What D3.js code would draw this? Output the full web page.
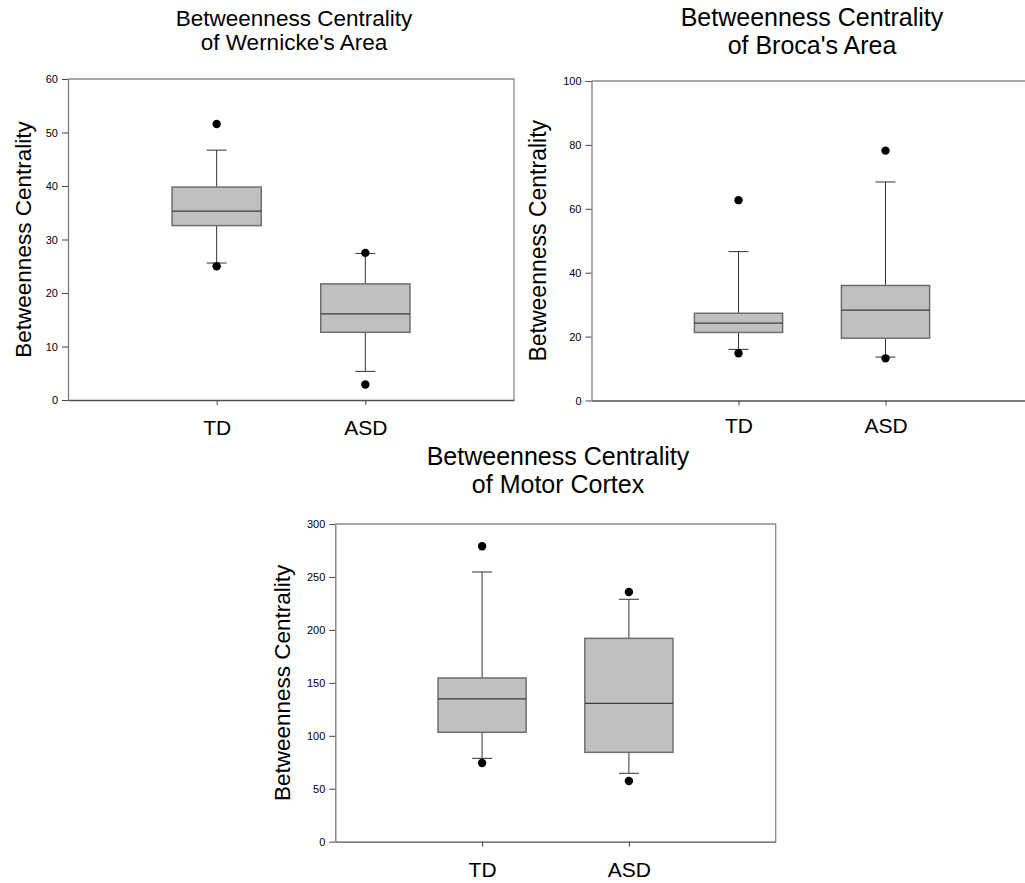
<!DOCTYPE html>
<html lang="en">
  <head>
    <meta charset="utf-8" />
    <title>Betweenness Centrality</title>
    <script src="https://d3js.org/d3.v7.min.js"></script>
    <style>
      body { margin: 0; background: #fff; }
      svg { display: block; font-family: "Liberation Sans", Arial, sans-serif; }
    </style>
  </head>
  <body>
    <div id="graph-container"></div>
    <script>
      // data
      const groups = ["TD", "ASD"];
      // order: low outlier, low whisker, Q1, median, Q3, high whisker, high outlier
      const wernickeTD = [25.0, 25.6, 32.6, 35.3, 39.8, 46.7, 51.6];
      const wernickeASD = [2.9, 5.35, 12.65, 16.1, 21.7, 27.4, 27.5];
      const brocaTD = [14.8, 16.0, 21.3, 24.2, 27.3, 46.6, 62.7];
      const brocaASD = [13.2, 13.6, 19.5, 28.3, 36.0, 68.4, 78.2];
      const motorTD = [74.3, 78.7, 103.3, 134.8, 154.6, 254.7, 279];
      const motorASD = [57.3, 64.6, 84.4, 130.7, 192, 228.9, 235.8];
      const wernickeTicks = [0, 10, 20, 30, 40, 50, 60];
      const brocaTicks = [0, 20, 40, 60, 80, 100];
      const motorTicks = [0, 50, 100, 150, 200, 250, 300];

      const cW = 1025, cH = 883;
      const svg = d3.select("#graph-container").append("svg")
        .attr("width", cW).attr("height", cH);

      const panels = [
        {
          titles: ["Betweenness Centrality", "of Wernicke's Area"],
          stats: [wernickeTD, wernickeASD], ticks: wernickeTicks,
          l: 68, r: 514, t: 79, b: 400,
          titleX: 294, titleY: [26, 50], titleSize: 22.5,
          labX: 23, labSize: 22.5, xPad: 15
        },
        {
          titles: ["Betweenness Centrality", "of Broca's Area"],
          stats: [brocaTD, brocaASD], ticks: brocaTicks,
          l: 591.5, r: 1032.5, t: 81, b: 400.5,
          titleX: 812, titleY: [26, 54], titleSize: 25,
          labX: 538, labSize: 23, xPad: 13
        },
        {
          titles: ["Betweenness Centrality", "of Motor Cortex"],
          stats: [motorTD, motorASD], ticks: motorTicks,
          l: 335.3, r: 775.7, t: 524, b: 841.7,
          titleX: 558, titleY: [465, 493], titleSize: 25,
          labX: 282, labSize: 22.5, xPad: 15
        }
      ];

      panels.forEach((p) => {
        const g = svg.append("g");
        const x = d3.scalePoint().domain(groups).range([p.l, p.r]).padding(1);
        const y = d3.scaleLinear()
          .domain([0, d3.max(p.ticks)])
          .range([p.b, p.t]);
        const boxW = (p.r - p.l) * 0.2;
        const capW = 20;

        // title
        p.titles.forEach((tt, i) => {
          g.append("text")
            .attr("x", p.titleX).attr("y", p.titleY[i])
            .attr("text-anchor", "middle")
            .attr("font-size", p.titleSize)
            .attr("fill", "#000")
            .text(tt);
        });

        // frame top and right
        g.append("path")
          .attr("d", `M${p.l},${p.t}H${p.r}V${p.b}`)
          .attr("fill", "none")
          .attr("stroke", "#8a8a8a")
          .attr("stroke-width", 1.3);

        // y axis
        const ya = g.append("g")
          .attr("transform", `translate(${p.l},0)`)
          .call(d3.axisLeft(y).tickValues(p.ticks).tickSize(6).tickPadding(4).tickSizeOuter(0));
        ya.select(".domain").attr("stroke", "#7a7a7a").attr("stroke-width", 1.3);
        ya.selectAll(".tick line").attr("stroke", "#444");
        ya.selectAll(".tick text")
          .attr("font-size", 11)
          .attr("font-family", "Liberation Sans, Arial, sans-serif")
          .attr("fill", "#000");

        // x axis
        const xa = g.append("g")
          .attr("transform", `translate(0,${p.b})`)
          .call(d3.axisBottom(x).tickSize(5).tickPadding(p.xPad).tickSizeOuter(0));
        xa.select(".domain").attr("stroke", "#505050").attr("stroke-width", 1.3);
        xa.selectAll(".tick line").attr("stroke", "#444");
        xa.selectAll(".tick text")
          .attr("font-size", 21)
          .attr("font-family", "Liberation Sans, Arial, sans-serif")
          .attr("fill", "#000");

        // y label
        g.append("text")
          .attr("transform", `translate(${p.labX},${(p.t + p.b) / 2}) rotate(-90)`)
          .attr("text-anchor", "middle")
          .attr("dy", "0.35em")
          .attr("font-size", p.labSize)
          .attr("fill", "#000")
          .text("Betweenness Centrality");

        // boxes
        const rows = groups.map((k, i) => ({ k: k, s: p.stats[i] }));
        const bx = g.selectAll(".bx").data(rows).enter().append("g").attr("class", "bx");

        // whiskers
        bx.append("line")
          .attr("x1", (d) => x(d.k)).attr("x2", (d) => x(d.k))
          .attr("y1", (d) => y(d.s[5])).attr("y2", (d) => y(d.s[4]))
          .attr("stroke", "#333");
        bx.append("line")
          .attr("x1", (d) => x(d.k)).attr("x2", (d) => x(d.k))
          .attr("y1", (d) => y(d.s[2])).attr("y2", (d) => y(d.s[1]))
          .attr("stroke", "#333");
        [1, 5].forEach((j) => {
          bx.append("line")
            .attr("x1", (d) => x(d.k) - capW / 2).attr("x2", (d) => x(d.k) + capW / 2)
            .attr("y1", (d) => y(d.s[j])).attr("y2", (d) => y(d.s[j]))
            .attr("stroke", "#333");
        });

        bx.append("rect")
          .attr("x", (d) => x(d.k) - boxW / 2)
          .attr("y", (d) => y(d.s[4]))
          .attr("width", boxW)
          .attr("height", (d) => y(d.s[2]) - y(d.s[4]))
          .attr("fill", "#c0c0c0")
          .attr("stroke", "#6e6e6e")
          .attr("stroke-width", 1.5);

        bx.append("line")
          .attr("x1", (d) => x(d.k) - boxW / 2).attr("x2", (d) => x(d.k) + boxW / 2)
          .attr("y1", (d) => y(d.s[3])).attr("y2", (d) => y(d.s[3]))
          .attr("stroke", "#3c3c3c")
          .attr("stroke-width", 1.3);

        // outliers
        [0, 6].forEach((j) => {
          bx.append("circle")
            .attr("cx", (d) => x(d.k))
            .attr("cy", (d) => y(d.s[j]))
            .attr("r", 4.2)
            .attr("fill", "#000");
        });
      });
    </script>
  </body>
</html>
